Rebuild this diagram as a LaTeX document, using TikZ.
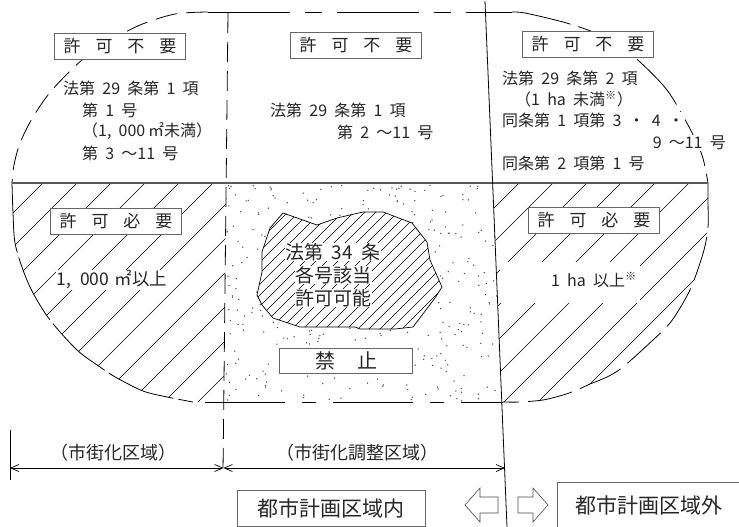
\documentclass[tikz,border=0pt]{standalone}
\usepackage{fontspec}
\setmainfont{Noto Sans CJK JP}
\usetikzlibrary{arrows.meta}
\newcommand\gp{\hspace{0.45em}}
\newcommand\lsp{\hspace{0.88em}}
\def\blobpath{(283,213) -- (317,225) -- (337,218) -- (363,212) -- (383,212) -- (412,223) -- (427,242) -- (430,260) -- (442,287) -- (435,298) -- (413,327) -- (395,329) -- (360,329) -- (355,327) -- (320,327) -- (300,327) -- (273,318) -- (262,305) -- (257,295) -- (262,272) -- (262,252) -- (270,228) -- cycle}
\begin{document}
\begin{tikzpicture}[x=1pt,y=-1pt,
  every node/.style={text=black!85},
  font=\fontsize{16}{21.7}\selectfont,
  lbl/.style={draw=black!60, line width=0.7pt, fill=white, minimum width=131pt, minimum height=26pt, inner sep=0pt, font=\fontsize{17}{20}\selectfont},
  txt/.style={fill=white, inner sep=1pt},
  hatch/.style={line width=0.5pt, black},
  outl/.style={line width=0.8pt, black},
  dimarrow/.style={line width=0.7pt, {Straight Barb[length=8pt,width=7pt]}-{Straight Barb[length=8pt,width=7pt]}},
  blockarrow/.style={draw=black!70, line width=0.6pt, fill=white},
  bigbox/.style={draw=black!60, line width=0.7pt, inner sep=0pt, font=\fontsize{21}{25}\selectfont}]
\useasboundingbox (0,0) rectangle (739,527);

% stipple in the middle region
\begin{scope}
  \clip (226,183) -- (493,183) -- (502,402) -- (224,402) -- cycle;
  \pgfmathsetseed{11}
  \foreach \i in {1,...,420} {
    \pgfmathsetmacro\xx{226+276*rnd}
    \pgfmathsetmacro\yy{185+216*rnd}
    \fill[black!70] (\xx,\yy) circle[radius=0.75];
  }
\end{scope}

% hatching, left region
\begin{scope}
  \clip (12,183) -- (226,183) -- (224,402) -- (193,402) -- (167,397) -- (143,391) -- (117,378) -- (100,367) -- (77,350) -- (50,320) -- (33,293) -- (23,270) -- (15,243) -- (13,213) -- cycle;
  \foreach \c in {192,226,...,640} \draw[hatch] (\c,0) -- (\c-527,527);
\end{scope}

% hatching, right region
\begin{scope}
  \clip (493,183) -- (708,183) -- (708,200) -- (708,227) -- (704,250) -- (693,283) -- (683,303) -- (670,323) -- (653,340) -- (623,367) -- (607,377) -- (590,384) -- (577,390) -- (563,395) -- (543,400) -- (520,402) -- (502,402) -- cycle;
  \foreach \c in {634,668,...,1144} \draw[hatch] (\c,0) -- (\c-527,527);
\end{scope}
\fill[white] (500,262) rectangle (640,303);

% blob
\fill[white] \blobpath;
\begin{scope}
  \clip \blobpath;
  \foreach \c in {500,511,...,770} \draw[hatch] (\c,0) -- (\c-527,527);
\end{scope}
\draw[line width=0.7pt] \blobpath;

% outline
\draw[outl, dash pattern=on 22pt off 9pt] plot[smooth] coordinates {(208,12) (175,14) (140,25) (110,41) (82,60) (52,90) (33,117) (20,143) (14,165) (12,183)};
\draw[outl, dash pattern=on 82pt off 15pt on 17pt off 15pt] (208,12) -- (512,12);
\draw[outl, dash pattern=on 60pt off 8pt] plot[smooth] coordinates {(512,12) (525,13) (563,22) (593,32) (618,45) (640,62) (667,90) (688,125) (702,155) (708,183)};
\draw[outl, dash pattern=on 45pt off 9pt] plot[smooth] coordinates {(708,183) (708,200) (708,227) (704,250) (693,283) (683,303) (670,323) (653,340) (623,367) (607,377) (590,384) (577,390) (563,395) (543,400) (520,402) (503,402)};
\draw[outl, dash pattern=on 80pt off 17pt on 14pt off 17pt] (205,402) -- (503,402);
\draw[outl, dash pattern=on 70pt off 5pt] plot[smooth] coordinates {(12,183) (13,213) (15,243) (23,270) (33,293) (50,320) (77,350) (100,367) (117,378) (143,391) (167,397) (193,402)};

\draw[black!65, line width=1.3pt] (12,183) -- (708,183);
\draw[outl, dash pattern=on 20pt off 9pt] (228,13) -- (223,472);
\draw[outl] (485,1) -- (507,527);

% top left
\node[lbl] (tlbox) at (120,46) {許\lsp{}可\lsp{}不\lsp{}要};
\node[txt, anchor=west] (tl1) at (62,88) {法第\gp{}29\gp{}条第\gp{}1\gp{}項};
\node[txt, anchor=west] (tl2) at (81,110) {第\gp{}1\gp{}号};
\node[txt, anchor=west] (tl3) at (81,131) {（1,\gp{}000\,㎡未満）};
\node[txt, anchor=west] (tl4) at (81,153) {第\gp{}3\gp{}～11\gp{}号};

% top middle
\node[lbl] (tmbox) at (356,45) {許\lsp{}可\lsp{}不\lsp{}要};
\node[txt, anchor=west] (tm1) at (269,110) {法第\gp{}29\gp{}条第\gp{}1\gp{}項};
\node[txt, anchor=west] (tm2) at (336,132) {第\gp{}2\gp{}～11\gp{}号};

% top right
\node[lbl] (trbox) at (588,44) {許\lsp{}可\lsp{}不\lsp{}要};
\node[txt, anchor=west] (tr1) at (501,78) {法第\gp{}29\gp{}条第\gp{}2\gp{}項};
\node[txt, anchor=west] (tr2) at (514,99) {（1\gp{}ha\gp{}未満\textsuperscript{※}）};
\node[txt, anchor=west] (tr3) at (501,120) {同条第\gp{}1\gp{}項第\gp{}3\gp{}・\gp{}4\gp{}・};
\node[txt, anchor=east] (tr4) at (727,143) {9\gp{}～11\gp{}号};
\node[txt, anchor=west] (tr5) at (501,163) {同条第\gp{}2\gp{}項第\gp{}1\gp{}号};

% bottom left / right
\node[lbl] (blbox) at (116,221) {許\lsp{}可\lsp{}必\lsp{}要};
\node[txt, font=\fontsize{17.5}{21}\selectfont] (bl1) at (112,280) {1,\hspace{0.5em}000\hspace{0.3em}㎡以上};
\node[lbl] (brbox) at (594,220) {許\lsp{}可\lsp{}必\lsp{}要};
\node[txt] (br1) at (594,280) {1\gp{}ha\gp{}以上\textsuperscript{※}};

% blob text
\begin{scope}[every node/.style={txt, text=black!85, inner sep=0.5pt, font=\fontsize{19}{23}\selectfont}]
\node (m1) at (333,252) {法第\gp{}34\gp{}条};
\node (m2) at (333,275) {各号該当};
\node (m3) at (333,298) {許可可能};
\end{scope}
\node[draw=black!60, line width=0.7pt, fill=white, minimum width=133pt, minimum height=25pt, inner sep=0pt, font=\fontsize{20}{24}\selectfont] (kinshi) at (346,361) {禁\hspace{1.1em}止};

% bottom dimension
\coordinate (tickA) at (10,430);
\coordinate (tickB) at (10,480);
\draw[line width=0.7pt] (tickA) -- (tickB);
\coordinate (dL) at (10,468);
\coordinate (dM) at (223.5,468);
\coordinate (dR) at (505,468);
\draw[dimarrow] (dL) -- (dM);
\draw[dimarrow] (dM) -- (dR);
\node[font=\fontsize{18}{22}\selectfont] (shigai) at (113,453) {（市街化区域）};
\node[font=\fontsize{18}{22}\selectfont] (chosei) at (357,453) {（市街化調整区域）};

% block arrows
\draw[blockarrow] (465,505) -- (480,488) -- (480,497) -- (498,497) -- (498,513) -- (480,513) -- (480,522) -- cycle;
\draw[blockarrow] (548,505) -- (533,488) -- (533,497) -- (518,497) -- (518,513) -- (533,513) -- (533,522) -- cycle;

\node[bigbox, minimum width=188pt, minimum height=36pt] (uchi) at (331,508) {都市計画区域内};
\node[bigbox, minimum width=183pt, minimum height=46pt] (soto) at (648.5,505) {都市計画区域外};
\end{tikzpicture}
\end{document}
